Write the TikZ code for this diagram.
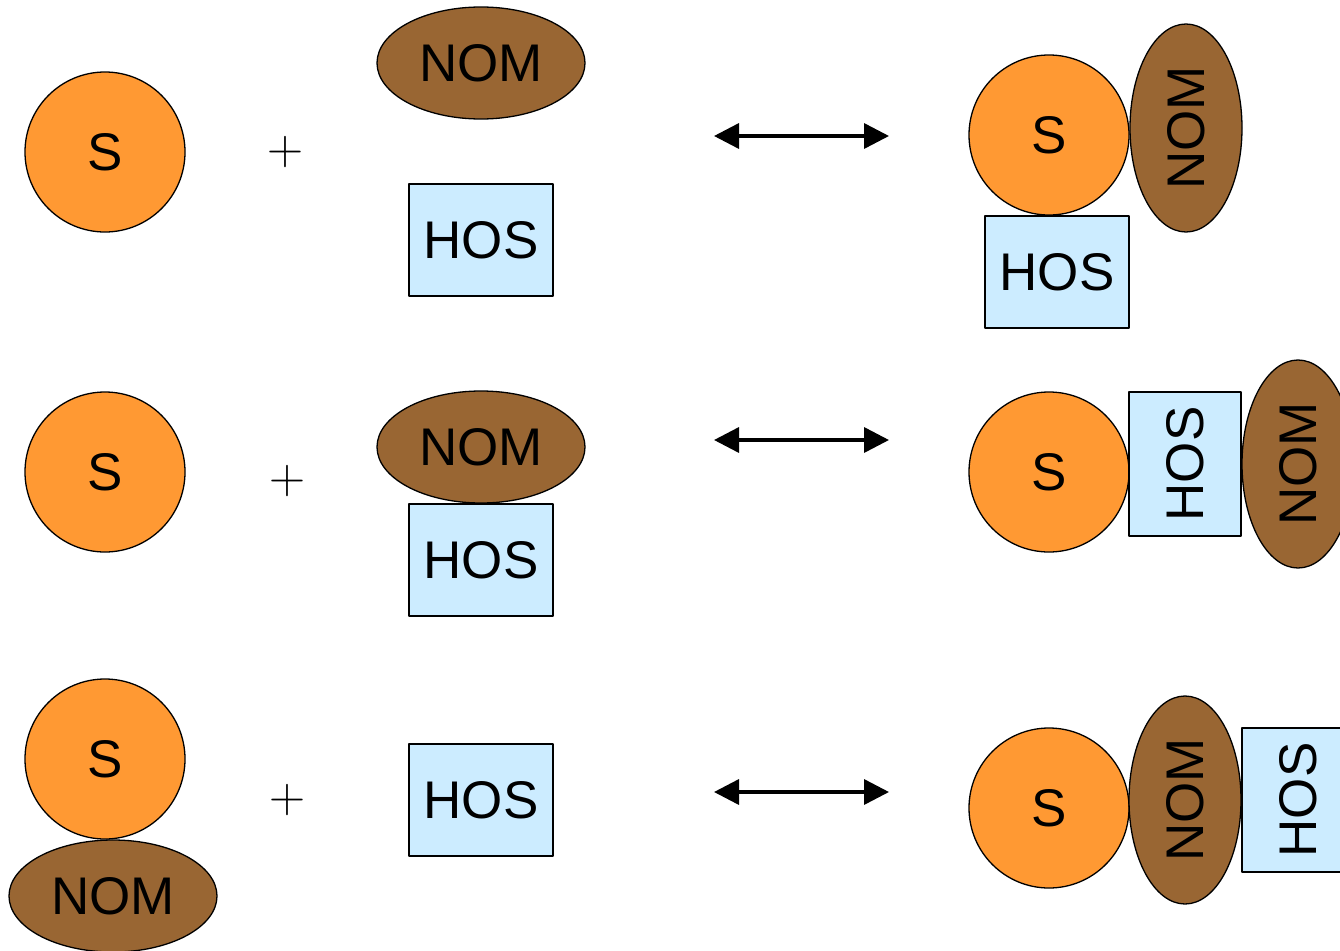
\documentclass[tikz,border=0pt]{standalone}
\usepackage{fontspec}
\setmainfont{Liberation Sans}
\newfontfamily\plusfont{Latin Modern Roman}
\usepackage{tikz}
\usetikzlibrary{arrows.meta}
\usetikzlibrary{positioning}
\usetikzlibrary{shapes.geometric}
\definecolor{sorange}{HTML}{FF9933}
\definecolor{nombrown}{HTML}{996633}
\definecolor{hosblue}{HTML}{CCECFF}

\begin{document}
\begin{tikzpicture}[line cap=round,line join=round,x=1pt,y=-1pt,
  partbase/.style={draw=black,line width=1.3pt,inner sep=0pt,outer sep=0pt,font=\fontsize{53}{60}\selectfont},
  sorb/.style={partbase,circle,fill=sorange,minimum size=160pt},
  nom/.style={partbase,ellipse,fill=nombrown,minimum width=208pt,minimum height=112pt},
  hos/.style={partbase,rectangle,fill=hosblue,minimum width=144pt,minimum height=112pt},
  plussign/.style={inner sep=0pt,font=\plusfont\fontsize{50}{50}\selectfont},
  eqarrow/.style={line width=3.5pt,line cap=butt,{Triangle[length=25pt,width=25pt]}-{Triangle[length=25pt,width=25pt]}}]
\useasboundingbox (0,0) rectangle (1340,950);
\clip (0,0) rectangle (1340,950);
% first row
\node[sorb] (s1) at (105,152) {S};
\node[plussign] (p1) at (285,152) {+};
\node[nom] (n1) at (481,63) {NOM};
\node[hos] (h1) at (481,240) {HOS};
\coordinate (a1l) at (714,136);
\coordinate (a1r) at (889,136);
\draw[eqarrow] (a1l) -- (a1r);
\node[sorb] (s1r) at (1049,135) {S};
\node[nom,rotate=90] (n1r) at (1186,128) {NOM};
\node[hos] (h1r) at (1057,272) {HOS};
% second row
\node[sorb] (s2) at (105,472) {S};
\node[plussign] (p2) at (287,481) {+};
\node[nom] (n2) at (481,447) {NOM};
\node[hos] (h2) at (481,560) {HOS};
\coordinate (a2l) at (714,440);
\coordinate (a2r) at (889,440);
\draw[eqarrow] (a2l) -- (a2r);
\node[sorb] (s2r) at (1049,472) {S};
\node[hos,rotate=90] (h2r) at (1185,464) {HOS};
\node[nom,rotate=90] (n2r) at (1298,464) {NOM};
% third row
\node[nom] (n3) at (113,896) {NOM};
\node[sorb] (s3) at (105,759) {S};
\node[plussign] (p3) at (287,800) {+};
\node[hos] (h3) at (481,800) {HOS};
\coordinate (a3l) at (714,792);
\coordinate (a3r) at (889,792);
\draw[eqarrow] (a3l) -- (a3r);
\node[sorb] (s3r) at (1049,808) {S};
\node[nom,rotate=90] (n3r) at (1185,800) {NOM};
\node[hos,rotate=90] (h3r) at (1298,800) {HOS};
\end{tikzpicture}
\end{document}
